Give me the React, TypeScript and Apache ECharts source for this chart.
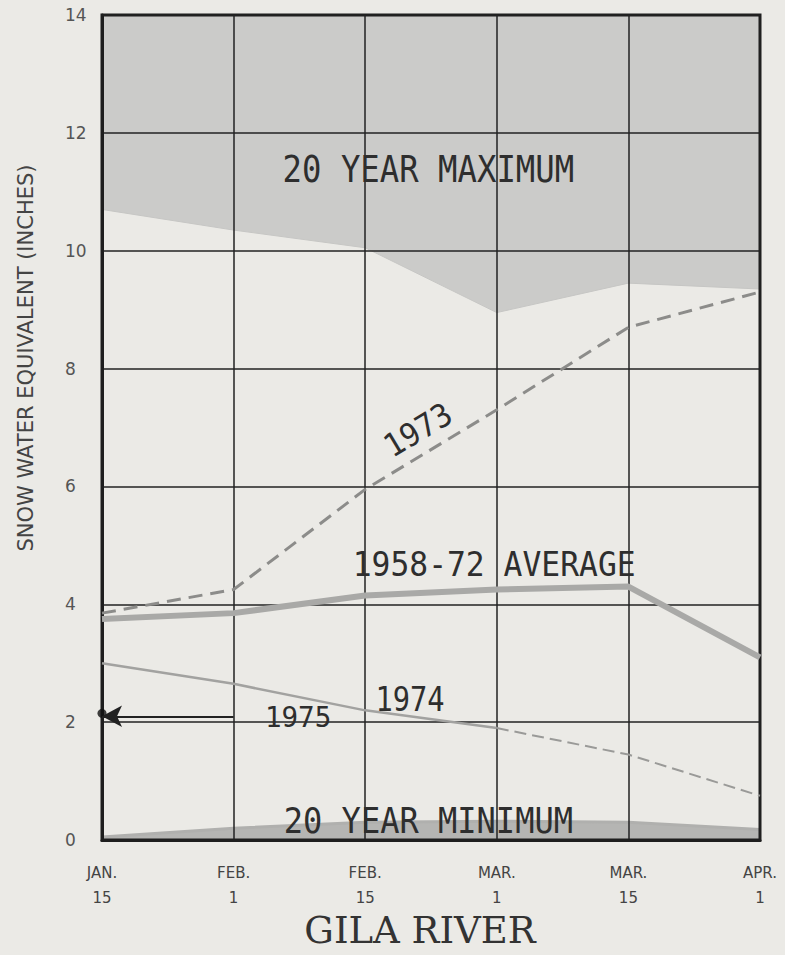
import React, { useEffect, useRef } from "react";
import * as echarts from "echarts";

// ---- data ----
const months = ["JAN.", "FEB.", "FEB.", "MAR.", "MAR.", "APR."];
const days = ["15", "1", "15", "1", "15", "1"];
const categories = months.map((m, i) => `${m}\n${days[i]}`);

const max20 = [10.7, 10.35, 10.05, 8.95, 9.45, 9.35];
const min20 = [0.05, 0.2, 0.3, 0.32, 0.3, 0.18];
const avg5872 = [3.75, 3.85, 4.15, 4.25, 4.3, 3.1];
const y1973 = [3.85, 4.25, 5.95, 7.3, 8.7, 9.3];
const y1974Solid = [3.0, 2.65, 2.2, 1.9, null, null];
const y1974Dashed = [null, null, null, 1.9, 1.45, 0.75];
const y1975 = [2.15, null, null, null, null, null];
const arrow1975 = 2.1;

const yMin = 0;
const yMax = 14;
const yInterval = 2;

// annotation labels: [text, catIndex, value, fontSize, scaleX, rotationDeg]
const labels: [string, number, number, number, number, number][] = [
  ["20 YEAR MAXIMUM", 2.48, 11.4, 38, 0.85, 0],
  ["1958-72 AVERAGE", 2.98, 4.67, 33, 0.95, 0],
  ["20 YEAR MINIMUM", 2.48, 0.34, 36, 0.89, 0],
  ["1973", 2.4, 6.96, 32, 0.95, 31],
  ["1974", 2.34, 2.38, 33, 0.87, 0],
  ["1975", 1.49, 2.09, 29, 0.95, 0],
];

const yAxisTitle = "SNOW WATER EQUIVALENT (INCHES)";
const chartTitle = "GILA RIVER";

export default function App() {
  const ref = useRef<HTMLDivElement>(null);
  useEffect(() => {
    document.body.style.margin = "0";
    document.body.style.background = "#ebeae6";
    const chart = echarts.init(ref.current!, undefined, { renderer: "svg" });
    const ink = "#1e1e1e";
    const option: any = {
      animation: false,
      backgroundColor: "#ebeae6",
      grid: {
        left: 102,
        right: 25,
        top: 15,
        bottom: 115,
        show: true,
        borderColor: ink,
        borderWidth: 3,
        z: 2,
      },
      xAxis: {
        type: "category",
        data: categories,
        boundaryGap: false,
        z: 2,
        axisLine: { lineStyle: { color: ink, width: 3 } },
        axisTick: { show: false },
        splitLine: { show: true, lineStyle: { color: "#222", width: 1.5 } },
        axisLabel: {
          margin: 20,
          fontSize: 15,
          lineHeight: 25,
          color: "#444",
          fontFamily: "DejaVu Sans",
        },
      },
      yAxis: {
        type: "value",
        min: yMin,
        max: yMax,
        interval: yInterval,
        z: 2,
        axisLine: { show: true, lineStyle: { color: ink, width: 3 } },
        axisTick: { show: false },
        splitLine: { show: true, lineStyle: { color: "#222", width: 1.5 } },
        axisLabel: {
          align: "left",
          margin: 37,
          fontSize: 17,
          color: "#555",
          fontFamily: "DejaVu Sans",
        },
      },
      series: [
        {
          name: "20 year maximum",
          type: "line",
          data: max20,
          symbol: "none",
          z: 1,
          lineStyle: { color: "#c6c6c4", width: 1 },
          areaStyle: { origin: "end", color: "#cbcbc9", opacity: 1 },
        },
        {
          name: "20 year minimum",
          type: "line",
          data: min20,
          symbol: "none",
          z: 1,
          lineStyle: { color: "#b0b0ae", width: 3 },
          areaStyle: { origin: "start", color: "#b5b5b3", opacity: 1 },
        },
        {
          name: "1958-72 average",
          type: "line",
          data: avg5872,
          symbol: "none",
          z: 3,
          lineStyle: { color: "#a9a9a7", width: 6 },
        },
        {
          name: "1973",
          type: "line",
          data: y1973,
          symbol: "none",
          z: 3,
          lineStyle: { color: "#8c8c8a", width: 3, type: [14, 8] },
        },
        {
          name: "1974",
          type: "line",
          data: y1974Solid,
          symbol: "none",
          z: 3,
          lineStyle: { color: "#a2a2a0", width: 2.5 },
        },
        {
          name: "1974 (cont.)",
          type: "line",
          data: y1974Dashed,
          symbol: "none",
          z: 3,
          lineStyle: { color: "#9a9a98", width: 2, type: [12, 6] },
        },
        {
          name: "1975",
          type: "scatter",
          data: y1975,
          symbol: "circle",
          symbolSize: 9,
          z: 4,
          itemStyle: { color: "#111" },
          markLine: {
            silent: true,
            symbol: ["none", "arrow"],
            symbolSize: [16, 20],
            label: { show: false },
            lineStyle: { color: "#222", width: 2, type: "solid" },
            data: [
              [
                { coord: [categories[1], arrow1975] },
                { coord: [categories[0], arrow1975] },
              ],
            ],
          },
        },
      ],
    };
    chart.setOption(option);

    const toPx = (idx: number, v: number) => {
      const i0 = Math.floor(idx);
      const i1 = Math.min(i0 + 1, categories.length - 1);
      const p0 = chart.convertToPixel({ gridIndex: 0 }, [i0, v]) as number[];
      const p1 = chart.convertToPixel({ gridIndex: 0 }, [i1, v]) as number[];
      const t = idx - i0;
      return [p0[0] + (p1[0] - p0[0]) * t, p0[1]];
    };

    const graphics: any[] = labels.map(([text, idx, v, fs, sx, rot]) => {
      const [x, y] = toPx(idx, v);
      return {
        type: "text",
        x,
        y,
        scaleX: sx,
        rotation: (rot * Math.PI) / 180,
        z: 10,
        style: {
          text,
          fontSize: fs,
          fontFamily: "DejaVu Sans Mono",
          fill: "#2e2e2e",
          align: "center",
          verticalAlign: "middle",
        },
      };
    });
    graphics.push({
      type: "text",
      x: 26,
      y: 358,
      rotation: Math.PI / 2,
      style: {
        text: yAxisTitle,
        fontSize: 21,
        fontFamily: "DejaVu Sans",
        fill: "#444",
        align: "center",
        verticalAlign: "middle",
      },
    });
    graphics.push({
      type: "text",
      x: 420,
      y: 930,
      style: {
        text: chartTitle,
        fontSize: 37,
        fontFamily: "DejaVu Serif",
        fill: "#333",
        align: "center",
        verticalAlign: "middle",
      },
    });
    chart.setOption({ graphic: graphics });

    return () => chart.dispose();
  }, []);
  return <div ref={ref} style={{ width: 785, height: 955 }} />;
}
